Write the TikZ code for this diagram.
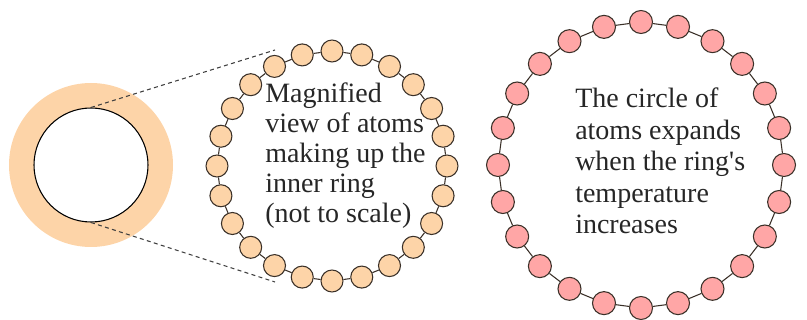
\documentclass[tikz,border=0pt]{standalone}
\usepackage{fontspec}
\setmainfont{Liberation Serif}
\definecolor{peach}{HTML}{FDD4A8}
\definecolor{pinkatom}{HTML}{FFA6A6}
\definecolor{edgec}{HTML}{3A3028}
\definecolor{dashc}{HTML}{404040}
\begin{document}
\begin{tikzpicture}[x=0.75pt,y=-0.75pt,
  atomA/.style={circle,draw=edgec,line width=0.8pt,fill=peach,minimum size=16.5pt,inner sep=0pt},
  atomB/.style={circle,draw=edgec,line width=0.8pt,fill=pinkatom,minimum size=17.25pt,inner sep=0pt},
  bond/.style={draw=edgec,line width=0.8pt},
  zoomline/.style={draw=dashc,line width=0.8pt,dash pattern=on 3pt off 2.5pt},
  label/.style={anchor=north west,align=left,inner sep=0pt,text=black!85}]
\useasboundingbox (0,0) rectangle (807,320);
% left ring
\node[circle,fill=peach,minimum size=123pt,inner sep=0pt] (outer) at (91,165) {};
\node[circle,draw=black,line width=0.8pt,fill=white,minimum size=85.5pt,inner sep=0pt] (inner) at (91,165) {};
\coordinate (dtop) at (275,50);
\coordinate (dbot) at (275,282);
\draw[zoomline] (inner.north) -- (dtop);
\draw[zoomline] (inner.south) -- (dbot);
% middle ring of atoms
\foreach \i in {1,...,24}{
  \pgfmathsetmacro{\ang}{90-15*(\i-1)}
  \node[atomA] (m\i) at ([shift={(332,166)}] \ang:86.25pt) {};
}
\foreach \i in {1,...,24}{
  \pgfmathtruncatemacro{\j}{mod(\i,24)+1}
  \draw[bond] (m\i) -- (m\j);
}
% right ring of atoms
\foreach \i in {1,...,24}{
  \pgfmathsetmacro{\ang}{90-15*(\i-1)}
  \node[atomB] (r\i) at ([shift={(641,165)}] \ang:107.25pt) {};
}
\foreach \i in {1,...,24}{
  \pgfmathtruncatemacro{\j}{mod(\i,24)+1}
  \draw[bond] (r\i) -- (r\j);
}
% texts
\node[label,font=\fontsize{21}{22.5}\selectfont] (t1) at (265,83)
  {Magnified\\view of atoms\\making up the\\inner ring\\(not to scale)};
\node[label,font=\fontsize{21}{23.6}\selectfont] (t2) at (575,88)
  {The circle of\\atoms expands\\when the ring\textquotesingle s\\temperature\\increases};
\end{tikzpicture}
\end{document}
